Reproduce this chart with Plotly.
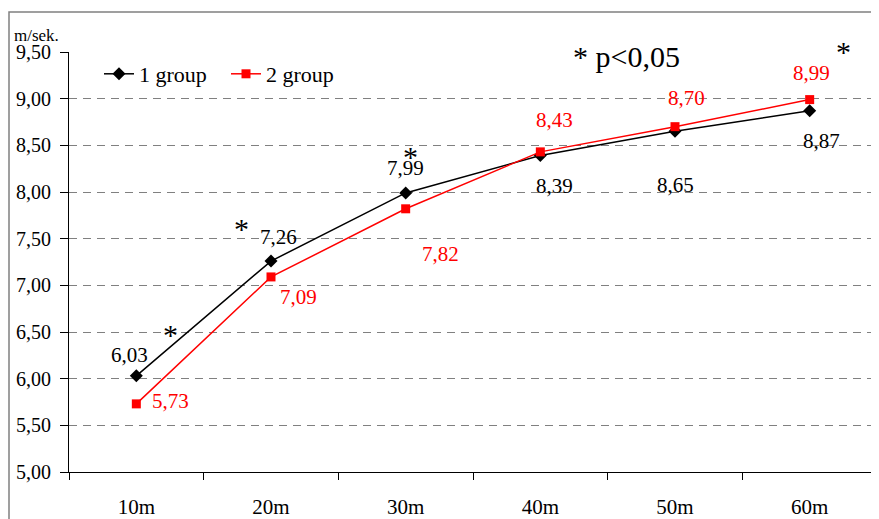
import plotly.graph_objects as go

categories = ["10m", "20m", "30m", "40m", "50m", "60m"]
group1 = [6.03, 7.26, 7.99, 8.39, 8.65, 8.87]
group2 = [5.73, 7.09, 7.82, 8.43, 8.70, 8.99]
y_ticks = [5.0, 5.5, 6.0, 6.5, 7.0, 7.5, 8.0, 8.5, 9.0, 9.5]

# label offsets (pixels) for data labels
off1 = [(-7, -21), (7, -24), (0, -25), (14, 30), (0, 54), (12, 30)]
off2 = [(34, -3), (27, 20), (35, 45), (14, -32), (11, -29), (2, -27)]

FONT = "Liberation Serif"

# page has 8px body margin: compensate
OFF = 8
W, H = 879 - OFF, 519 - OFF
L, R, T, B = 69 - OFF, 2, 52 - OFF, 47
PW, PH = W - L - R, H - T - B


def px(x):
    return (x - OFF - L) / PW


def py(y):
    return (H - B - (y - OFF)) / PH


fig = go.Figure()
fig.add_trace(go.Scatter(
    x=categories, y=group1, name="1 group", mode="lines+markers",
    line=dict(color="black", width=1.5),
    marker=dict(symbol="diamond", size=10, color="black"),
))
fig.add_trace(go.Scatter(
    x=categories, y=group2, name="2 group", mode="lines+markers",
    line=dict(color="#ff0000", width=1.5),
    marker=dict(symbol="square", size=9, color="#ff0000"),
))

ann = []
for i, v in enumerate(group1):
    ann.append(dict(x=categories[i], y=v, text=f"{v:.2f}".replace(".", ","),
                    showarrow=False, xshift=off1[i][0], yshift=-off1[i][1],
                    xanchor="center", yanchor="middle",
                    font=dict(family=FONT, size=21, color="black")))
for i, v in enumerate(group2):
    ann.append(dict(x=categories[i], y=v, text=f"{v:.2f}".replace(".", ","),
                    showarrow=False, xshift=off2[i][0], yshift=-off2[i][1],
                    xanchor="center", yanchor="middle",
                    font=dict(family=FONT, size=21, color="#ff0000")))

# significance asterisks (pixel placed)
for (ax, ay) in [(170, 334), (241, 229), (410, 156), (843, 51)]:
    ann.append(dict(xref="paper", yref="paper", x=px(ax), y=py(ay), text="*",
                    xanchor="center", yanchor="middle",
                    showarrow=False, font=dict(family=FONT, size=30, color="black")))
ann.append(dict(xref="paper", yref="paper", x=px(626), y=py(57), text="* p<0,05",
                xanchor="center", yanchor="middle",
                showarrow=False, font=dict(family=FONT, size=30, color="black")))
ann.append(dict(xref="paper", yref="paper", x=px(12), y=py(36), text="m/sek.",
                xanchor="left", yanchor="middle", showarrow=False,
                font=dict(family=FONT, size=17, color="black")))
ann.append(dict(xref="paper", yref="paper", x=px(158), y=py(-4), text="et al., 2009).",
                xanchor="right", yanchor="middle", showarrow=False,
                font=dict(family=FONT, size=20, color="black")))

fig.update_layout(
    width=W, height=H,
    margin=dict(l=L, r=R, t=T, b=B, autoexpand=False),
    paper_bgcolor="white", plot_bgcolor="white",
    separators=",.",
    font=dict(family=FONT, size=20, color="black"),
    showlegend=True,
    legend=dict(orientation="h", x=px(99), y=py(74), xanchor="left", yanchor="middle",
                bgcolor="rgba(0,0,0,0)", font=dict(family=FONT, size=22),
                entrywidth=82, entrywidthmode="pixels", tracegroupgap=0),
    annotations=ann,
    shapes=[dict(type="rect", xref="paper", yref="paper",
                 x0=px(9), x1=px(900), y0=py(540), y1=py(12),
                 line=dict(color="#808080", width=1.5), layer="above")],
)
fig.update_xaxes(type="category", range=[-0.5, 5.5], showgrid=False, automargin=False,
                 showline=True, linecolor="black", linewidth=1,
                 ticks="outside", tickson="boundaries", ticklen=7, tickcolor="black",
                 ticklabelstandoff=16,
                 tickfont=dict(family=FONT, size=21))
fig.update_yaxes(range=[5, 9.5], tickvals=y_ticks, tickformat=".2f", automargin=False,
                 showline=True, linecolor="black", linewidth=1,
                 ticks="outside", ticklen=8, tickcolor="black",
                 ticklabelstandoff=5,
                 showgrid=True, gridcolor="#808080", gridwidth=1, griddash="8px,6px",
                 zeroline=False, tickfont=dict(family=FONT, size=20))

fig.write_html("out.html")
